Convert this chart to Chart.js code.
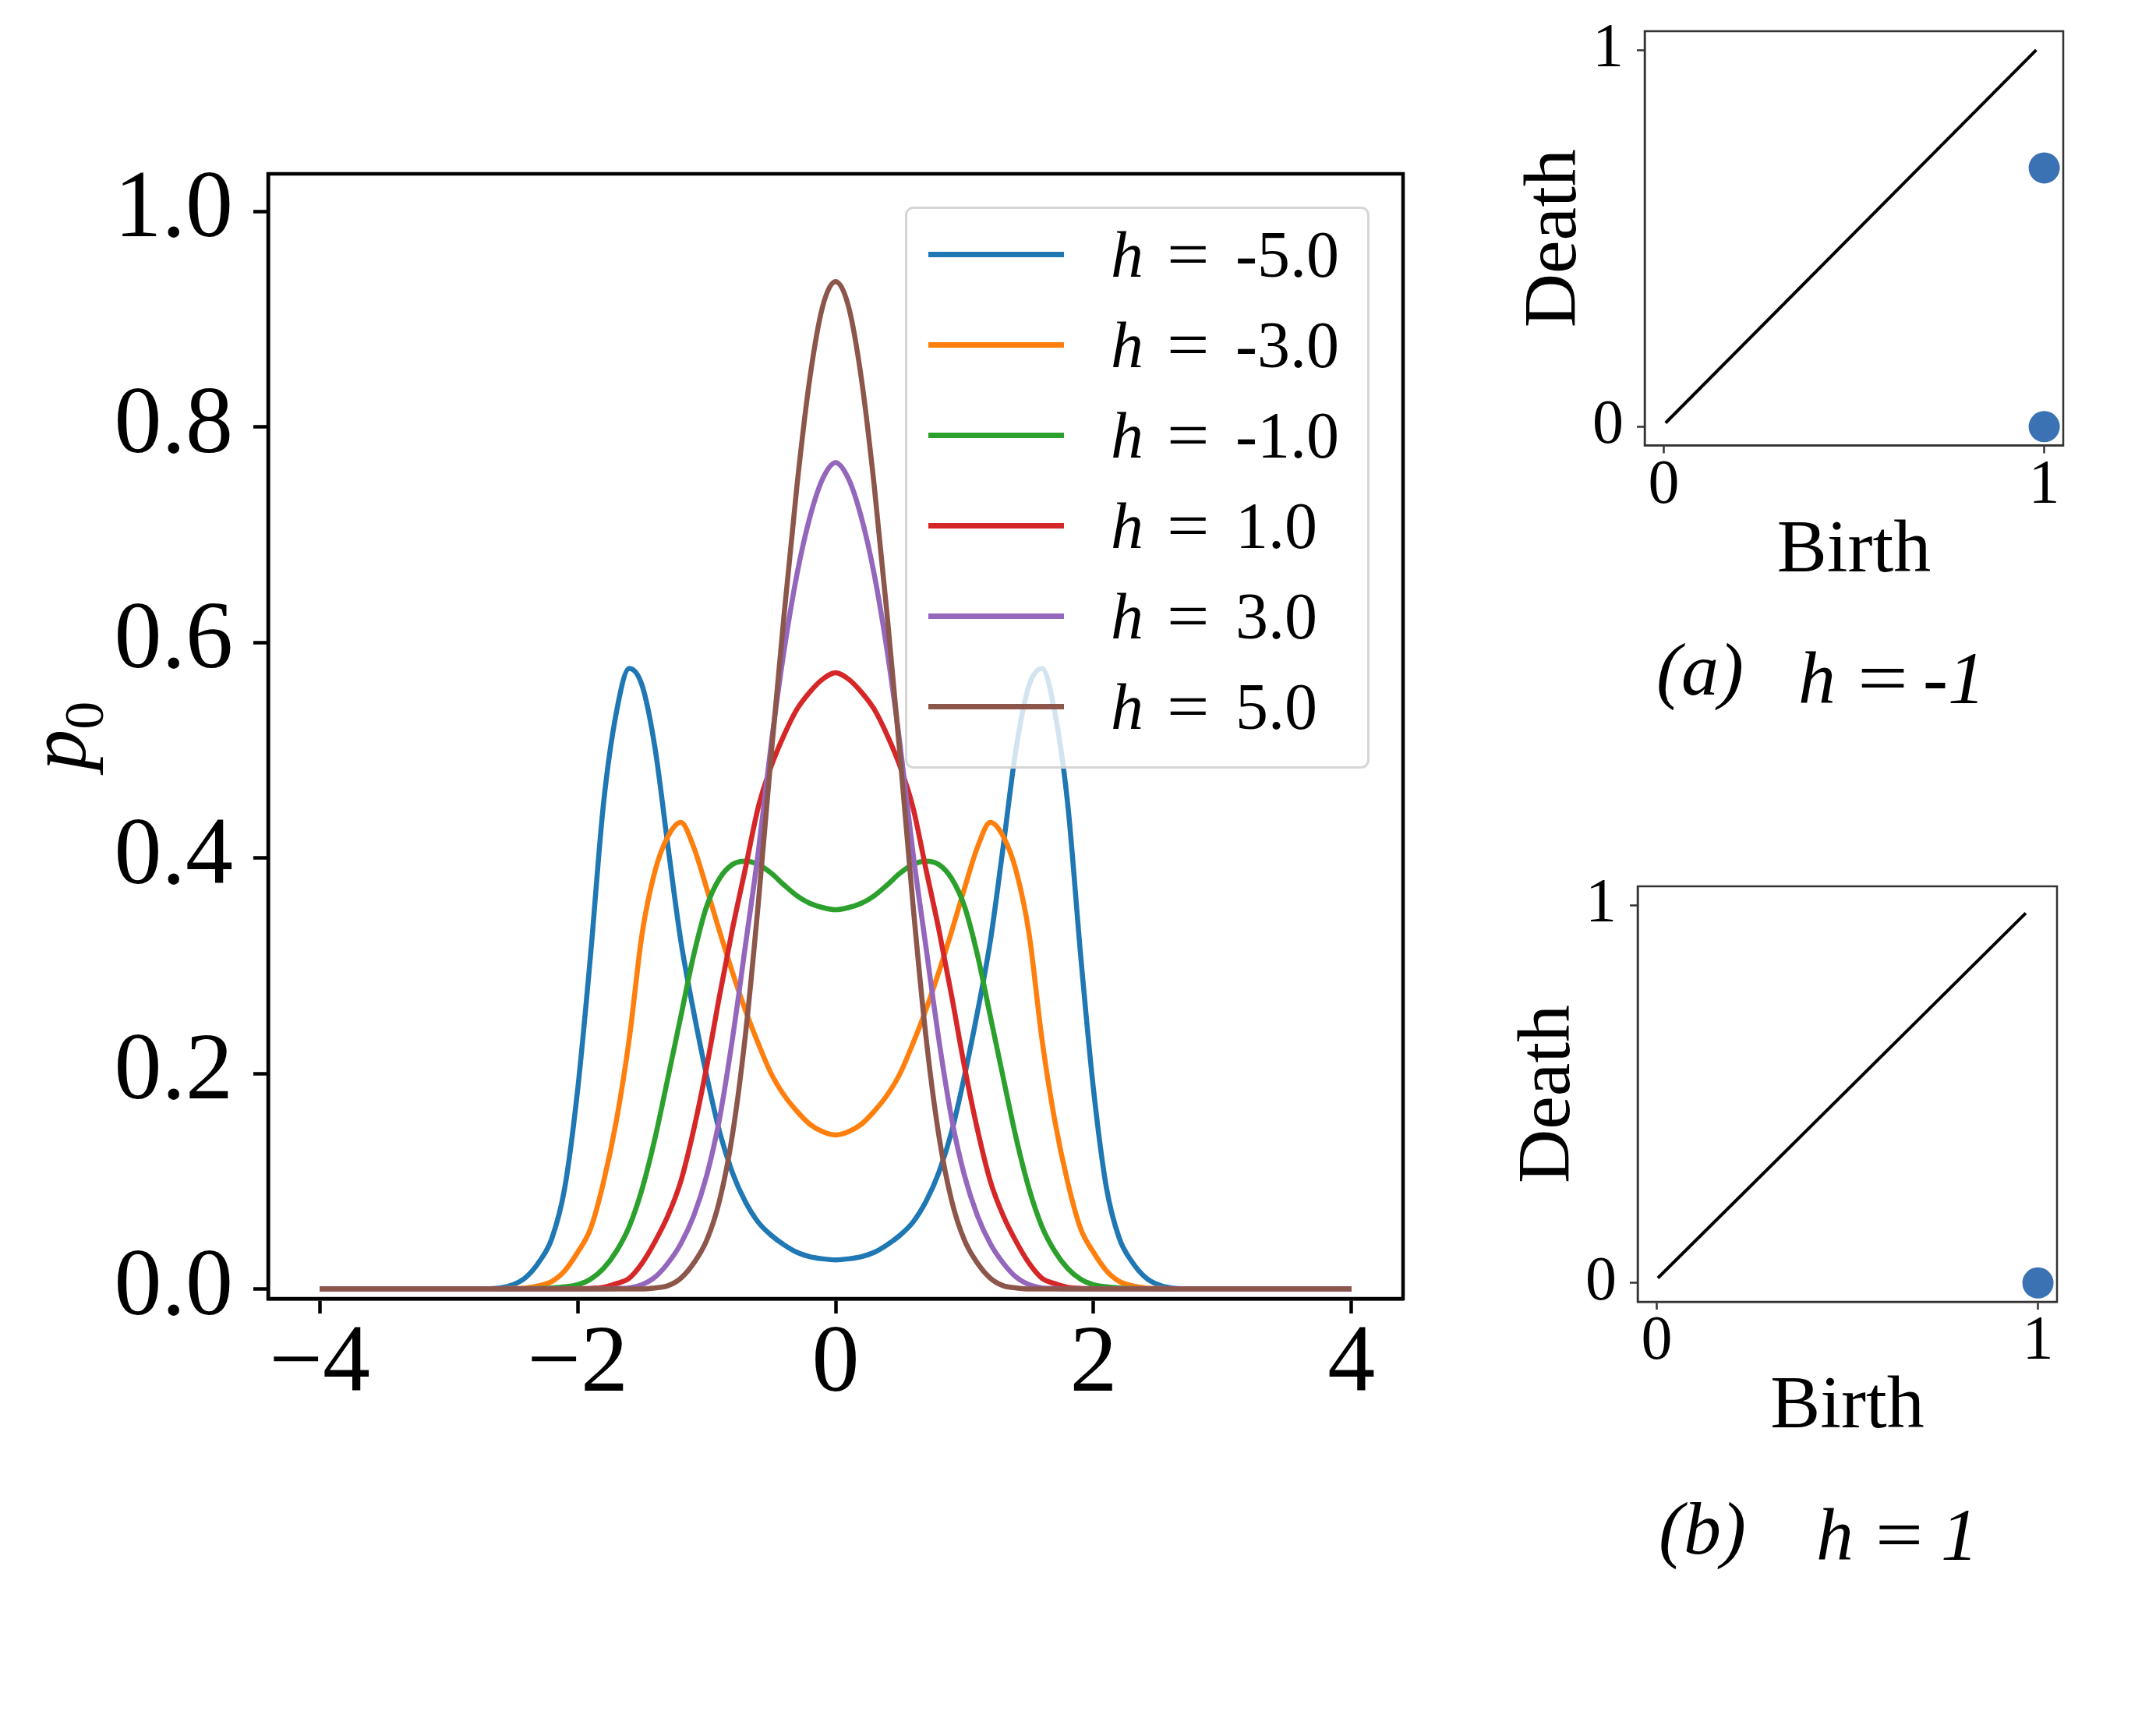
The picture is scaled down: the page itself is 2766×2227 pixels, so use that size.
<!DOCTYPE html>
<html>
<head>
<meta charset="utf-8">
<script src="https://cdn.jsdelivr.net/npm/chart.js@4.4.1/dist/chart.umd.min.js"></script>
<style>
html,body{margin:0;padding:0;background:#fff;}
body{width:2766px;height:2227px;position:relative;overflow:hidden;font-family:"Liberation Serif","Times New Roman",serif;color:#000;}
.abs{position:absolute;}
#legend{left:1161px;top:265px;width:596px;height:721px;box-sizing:border-box;border:3.5px solid rgba(204,204,204,0.8);border-radius:11px;background:rgba(255,255,255,0.8);}
.lg-line{position:absolute;left:26.5px;width:174px;height:6.5px;}
.lg-t{position:absolute;font-size:84px;line-height:84px;white-space:nowrap;}
.cap{position:absolute;font-size:96px;line-height:96px;white-space:nowrap;font-style:italic;}
.eq{font-style:normal;transform-origin:left center;}
</style>
</head>
<body>
<div class="abs" style="left:0;top:0;width:1900px;height:1900px"><canvas id="main" width="1900" height="1900"></canvas></div>
<div class="abs" style="left:1940px;top:0;width:760px;height:800px"><canvas id="pdA" width="760" height="800"></canvas></div>
<div class="abs" style="left:1940px;top:1100px;width:760px;height:800px"><canvas id="pdB" width="760" height="800"></canvas></div>
<div id="legend" class="abs"></div>
<div id="ylab" class="abs" style="left:-26.5px;top:873.5px;width:200px;height:140px;line-height:140px;text-align:center;font-size:105px;transform:rotate(-90deg);white-space:nowrap;"><span style="font-style:italic">p</span><span style="font-size:72px;position:relative;top:23px;line-height:0">0</span></div>

<div class="cap" style="left:2125px;top:811px">(a)</div>
<div class="cap" style="left:2307px;top:822px">h</div>
<div class="cap eq" style="left:2383px;top:822px;transform:scaleX(1.2)">=</div>
<div class="cap" style="left:2467px;top:822px">-1</div>

<div class="cap" style="left:2128px;top:1913px">(b)</div>
<div class="cap" style="left:2330px;top:1921px">h</div>
<div class="cap eq" style="left:2406px;top:1921px;transform:scaleX(1.13)">=</div>
<div class="cap" style="left:2490px;top:1921px">1</div>

<script>
// ---------- data ----------
const xs = [-4, -3, -2.8, -2.7, -2.6, -2.5, -2.4, -2.3, -2.2, -2.1, -2, -1.9, -1.8, -1.7, -1.6, -1.5, -1.4, -1.3, -1.2, -1.1, -1, -0.9, -0.8, -0.7, -0.6, -0.5, -0.4, -0.3, -0.2, -0.1, 0,
  0.1, 0.2, 0.3, 0.4, 0.5, 0.6, 0.7, 0.8, 0.9, 1, 1.1, 1.2, 1.3, 1.4, 1.5, 1.6, 1.7, 1.8, 1.9, 2, 2.1, 2.2, 2.3, 2.4, 2.5, 2.6, 2.7, 2.8, 3, 4];

const hValues = [-5, -3, -1, 1, 3, 5];
const seriesColors = ['#1f77b4', '#ff7f0e', '#2ca02c', '#d62728', '#9467bd', '#8c564b'];

const pHm5 = [0,0,0,0.0002,0.001,0.004,0.011,0.025,0.047,0.094,0.185,0.31,0.45,0.535,0.576,0.56,0.502,0.411,0.323,0.257,0.198,0.146,0.108,0.081,0.062,0.05,0.041,0.034,0.03,0.028,0.027,
  0.028,0.03,0.034,0.041,0.05,0.062,0.081,0.108,0.146,0.198,0.257,0.323,0.411,0.502,0.56,0.576,0.535,0.45,0.31,0.185,0.094,0.047,0.025,0.011,0.004,0.001,0.0002,0,0,0];
const pHm3 = [0,0,0,0,0.0002,0.0005,0.001,0.003,0.007,0.017,0.034,0.056,0.099,0.156,0.232,0.33,0.388,0.42,0.433,0.41,0.372,0.332,0.294,0.259,0.228,0.2,0.18,0.165,0.153,0.146,0.143,
  0.146,0.153,0.165,0.18,0.2,0.228,0.259,0.294,0.332,0.372,0.41,0.433,0.42,0.388,0.33,0.232,0.156,0.099,0.056,0.034,0.017,0.007,0.003,0.001,0.0005,0.0002,0,0,0,0];
const pHm1 = [0,0,0,0,0,0,0.0002,0.0005,0.001,0.002,0.004,0.009,0.019,0.035,0.058,0.093,0.14,0.196,0.253,0.31,0.355,0.381,0.394,0.397,0.394,0.386,0.375,0.365,0.358,0.354,0.352,
  0.354,0.358,0.365,0.375,0.386,0.394,0.397,0.394,0.381,0.355,0.31,0.253,0.196,0.14,0.093,0.058,0.035,0.019,0.009,0.004,0.002,0.001,0.0005,0.0002,0,0,0,0,0,0];
const pH1 = [0,0,0,0,0,0,0,0,0,0.0001,0.0003,0.0006,0.0015,0.005,0.01,0.024,0.044,0.068,0.1,0.148,0.206,0.272,0.334,0.39,0.447,0.485,0.514,0.538,0.554,0.566,0.572,
  0.566,0.554,0.538,0.514,0.485,0.447,0.39,0.334,0.272,0.206,0.148,0.1,0.068,0.044,0.024,0.01,0.005,0.0015,0.0006,0.0003,0.0001,0,0,0,0,0,0,0,0,0];
const pH3 = [0,0,0,0,0,0,0,0,0,0,0,0,0,0.0005,0.001,0.004,0.011,0.024,0.042,0.068,0.105,0.158,0.232,0.318,0.405,0.505,0.592,0.663,0.716,0.752,0.767,
  0.752,0.716,0.663,0.592,0.505,0.405,0.318,0.232,0.158,0.105,0.068,0.042,0.024,0.011,0.004,0.001,0.0005,0,0,0,0,0,0,0,0,0,0,0,0,0];
const pH5 = [0,0,0,0,0,0,0,0,0,0,0,0,0,0,0,0,0.001,0.003,0.01,0.024,0.045,0.082,0.143,0.235,0.357,0.495,0.625,0.745,0.845,0.912,0.935,
  0.912,0.845,0.745,0.625,0.495,0.357,0.235,0.143,0.082,0.045,0.024,0.01,0.003,0.001,0,0,0,0,0,0,0,0,0,0,0,0,0,0,0,0];

const xTicks = [-4, -2, 0, 2, 4];
const yTicks = [0, 0.2, 0.4, 0.6, 0.8, 1.0];

// persistence diagrams
const pdTicks = [0, 1];
const diagA_x = [0.005, 0.979], diagA_y = [0.01, 1.0];
const birthA = [1, 1], deathA = [0, 0.687];
const diagB_x = [0.003, 0.968], diagB_y = [0.013, 0.979];
const birthB = [1], deathB = [0];

// ---------- helpers ----------
const serif = '"Liberation Serif", "Times New Roman", serif';
const framePlugin = {
  id: 'frame',
  afterDraw(chart, args, opts) {
    const {ctx, chartArea: a} = chart;
    ctx.save();
    ctx.strokeStyle = opts.color || '#000';
    ctx.lineWidth = opts.width || 1;
    ctx.strokeRect(a.left, a.top, a.right - a.left, a.bottom - a.top);
    ctx.restore();
  }
};

const allSeries = [pHm5, pHm3, pHm1, pH1, pH3, pH5];
const datasets = allSeries.map((ys, i) => ({
  label: 'h = ' + hValues[i].toFixed(1),
  data: xs.map((x, j) => ({x: x, y: ys[j]})),
  borderColor: seriesColors[i],
  backgroundColor: seriesColors[i],
  borderWidth: 6.5,
  pointRadius: 0,
  showLine: true,
  cubicInterpolationMode: 'monotone',
  order: allSeries.length - 1 - i
}));

new Chart(document.getElementById('main'), {
  type: 'scatter',
  data: { datasets },
  plugins: [framePlugin],
  options: {
    responsive: false,
    animation: false,
    events: [],
    layout: { padding: { left: 0, top: 223, right: 100, bottom: 84 } },
    plugins: {
      legend: { display: false },
      tooltip: { enabled: false },
      frame: { color: '#000', width: 4.5 }
    },
    scales: {
      x: {
        type: 'linear', min: -4.4, max: 4.4,
        afterBuildTicks: s => { s.ticks = xTicks.map(v => ({value: v})); },
        afterFit: s => { s.height = 150; },
        grid: { drawOnChartArea: false, drawTicks: true, tickLength: 19, tickWidth: 4.5, tickColor: '#000' },
        border: { display: true, color: '#000', width: 4.5 },
        ticks: {
          color: '#000', padding: 6, maxRotation: 0, autoSkip: false,
          font: { family: serif, size: 122, lineHeight: 1.0 },
          callback: v => (v < 0 ? '\u2212' + Math.abs(v) : String(v))
        }
      },
      y: {
        type: 'linear', min: -0.009, max: 1.035,
        afterBuildTicks: s => { s.ticks = yTicks.map(v => ({value: v})); },
        afterFit: s => { s.width = 344; },
        grid: { drawOnChartArea: false, drawTicks: true, tickLength: 19, tickWidth: 4.5, tickColor: '#000' },
        border: { display: true, color: '#000', width: 4.5 },
        ticks: {
          color: '#000', padding: 26, autoSkip: false,
          font: { family: serif, size: 122, lineHeight: 0.6 },
          callback: v => Number(v).toFixed(1)
        }
      }
    }
  }
});

function pdChart(id, dx, dy, bx, by, pad, yW, yTitlePad) {
  return new Chart(document.getElementById(id), {
    type: 'scatter',
    data: {
      datasets: [
        { data: dx.map((x, i) => ({x: x, y: dy[i]})), showLine: true, borderColor: '#000', borderWidth: 4, pointRadius: 0, order: 1 },
        { data: bx.map((x, i) => ({x: x, y: by[i]})), showLine: false, pointRadius: 20, pointBackgroundColor: '#3b72b3', pointBorderWidth: 0, order: 0 }
      ]
    },
    plugins: [framePlugin],
    options: {
      responsive: false,
      animation: false,
      events: [],
      layout: { padding: pad },
      plugins: { legend: { display: false }, tooltip: { enabled: false }, frame: { color: '#333', width: 2.5 } },
      scales: {
        x: {
          type: 'linear', min: -0.05, max: 1.05,
          afterBuildTicks: s => { s.ticks = pdTicks.map(v => ({value: v})); },
          afterFit: s => { s.height = 200; },
          grid: { drawOnChartArea: false, tickLength: 10, tickWidth: 2.5, tickColor: '#333' },
          border: { display: true, color: '#333', width: 2.5 },
          ticks: { color: '#000', padding: 2, font: { family: serif, size: 80, lineHeight: 1.0 } },
          title: { display: true, text: 'Birth', color: '#000', font: { family: serif, size: 96, lineHeight: 1.0 }, padding: { top: 0, bottom: 16 } }
        },
        y: {
          type: 'linear', min: -0.05, max: 1.05,
          afterBuildTicks: s => { s.ticks = pdTicks.map(v => ({value: v})); },
          afterFit: s => { s.width = yW; },
          grid: { drawOnChartArea: false, tickLength: 10, tickWidth: 2.5, tickColor: '#333' },
          border: { display: true, color: '#333', width: 2.5 },
          ticks: { color: '#000', padding: 17, font: { family: serif, size: 80, lineHeight: 0.5 } },
          title: { display: true, text: 'Death', color: '#000', font: { family: serif, size: 96, lineHeight: 1.0 }, padding: { top: yTitlePad, bottom: 0 } }
        }
      }
    }
  });
}
pdChart('pdA', diagA_x, diagA_y, birthA, deathA, { left: 0, top: 40, right: 53, bottom: 28.5 }, 170, 8);
pdChart('pdB', diagB_x, diagB_y, birthB, deathB, { left: 0, top: 36, right: 61, bottom: 30 }, 161, 0);

// ---------- legend (HTML, drawn over the plot) ----------
const lg = document.getElementById('legend');
hValues.forEach((h, i) => {
  const cy = 58.5 + 116 * i;
  const ln = document.createElement('div');
  ln.className = 'lg-line';
  ln.style.top = (cy - 3.25) + 'px';
  ln.style.background = seriesColors[i];
  lg.appendChild(ln);
  const parts = [
    { t: 'h', left: 261, it: true },
    { t: '=', left: 333, it: false, sx: 1.15 },
    { t: h.toFixed(1), left: 421, it: false }
  ];
  parts.forEach(p => {
    const s = document.createElement('div');
    s.className = 'lg-t';
    s.textContent = p.t;
    s.style.left = p.left + 'px';
    s.style.top = (cy - 41.8) + 'px';
    if (p.it) s.style.fontStyle = 'italic';
    if (p.sx) { s.style.transformOrigin = 'left center'; s.style.transform = 'scaleX(' + p.sx + ')'; }
    lg.appendChild(s);
  });
});
</script>
</body>
</html>
